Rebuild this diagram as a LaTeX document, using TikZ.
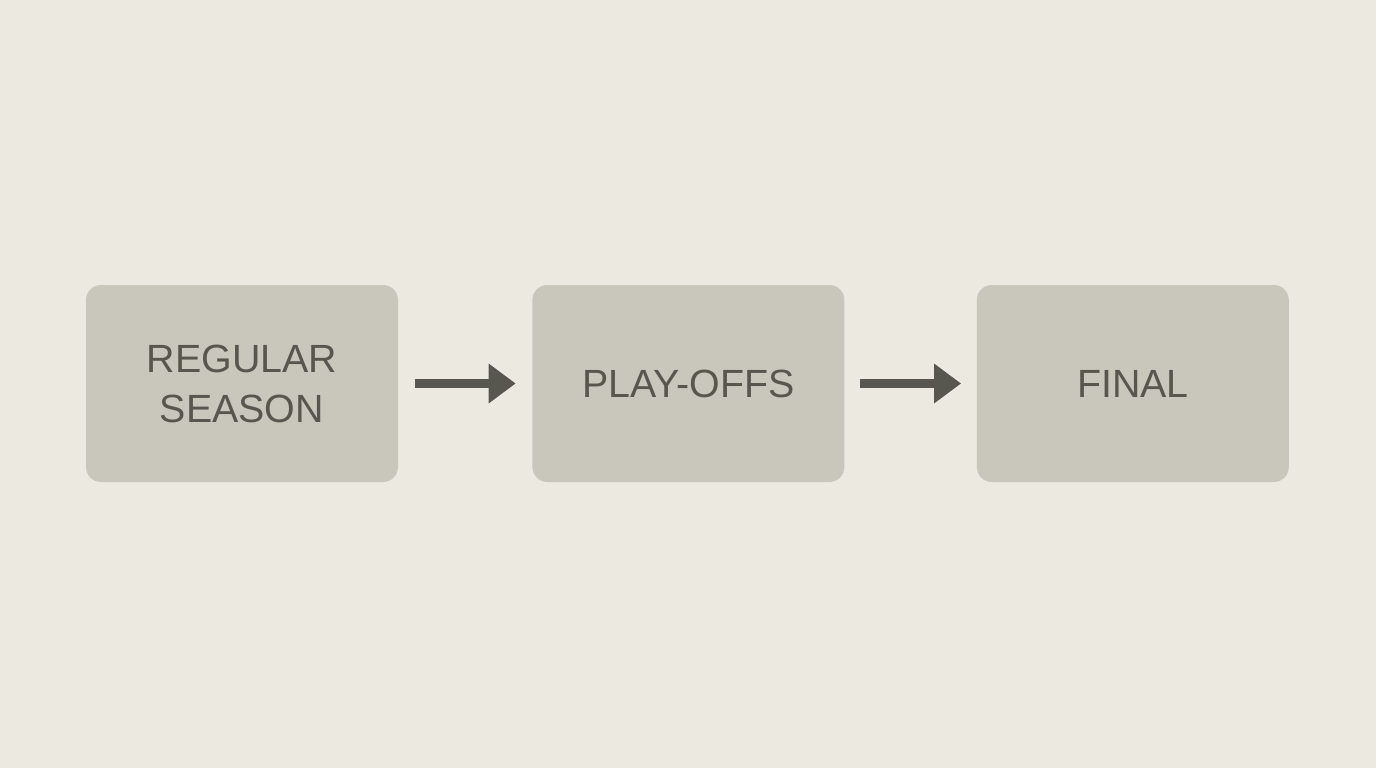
\documentclass[tikz,border=0pt]{standalone}
\usepackage{fontspec}
\setmainfont{Liberation Sans}
\usetikzlibrary{arrows.meta,positioning}
\definecolor{bgcol}{HTML}{ECEAE0}
\definecolor{boxcol}{HTML}{C9C7BC}
\definecolor{inkcol}{HTML}{57564F}
\begin{document}
\begin{tikzpicture}
                \tikzstyle{stage}=[fill=boxcol, rounded corners=0.15cm, minimum width=3.12cm, minimum height=1.97cm, inner sep=0pt, align=center, text=inkcol, font=\fontsize{11.2}{14.2}\selectfont]
                \tikzstyle{flow}=[draw=inkcol, line width=0.09cm, -{Triangle[length=0.27cm, width=0.38cm]}]
                \fill [bgcol] (0,0) rectangle (13.76,-7.68);
                \useasboundingbox (0,0) rectangle (13.76,-7.68);
                \node [stage] (regular) at (2.42,-3.835) {REGULAR\\SEASON};
                \node [stage, right=1.33cm of regular] (playoffs) {PLAY-OFFS};
                \node [stage, right=1.31cm of playoffs] (final) {FINAL};
                \draw [flow] ([xshift=0.16cm]regular.east) -- ([xshift=-0.16cm]playoffs.west);
                \draw [flow] ([xshift=0.15cm]playoffs.east) -- ([xshift=-0.15cm]final.west);
            \end{tikzpicture}
\end{document}
